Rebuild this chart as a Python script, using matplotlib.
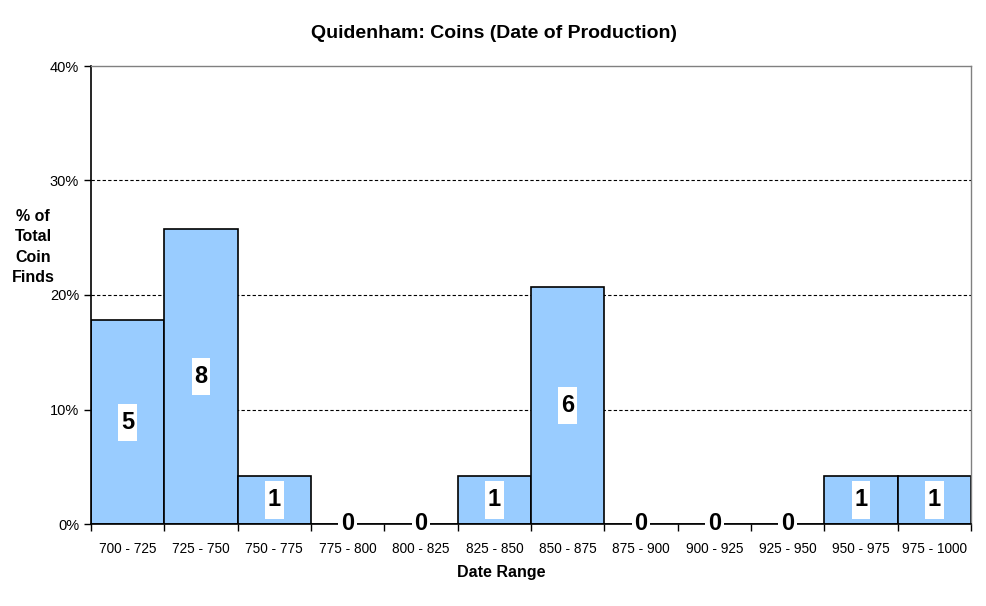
import matplotlib
matplotlib.use("Agg")
import matplotlib.pyplot as plt
import numpy as np
from matplotlib.path import Path
from matplotlib.ticker import FixedLocator, PercentFormatter

plt.rcParams['font.family'] = ['Liberation Sans', 'DejaVu Sans']

categories = ["700 - 725", "725 - 750", "750 - 775", "775 - 800", "800 - 825",
              "825 - 850", "850 - 875", "875 - 900", "900 - 925", "925 - 950",
              "950 - 975", "975 - 1000"]
percent = [17.8, 25.8, 4.2, 0, 0, 4.2, 20.7, 0, 0, 0, 4.2, 4.2]
counts = [5, 8, 1, 0, 0, 1, 6, 0, 0, 0, 1, 1]


def tall_box(x0, y0, width, height, mutation_size):
    padx = 0.12 * mutation_size
    pady = 0.30 * mutation_size
    x0, y0 = x0 - padx, y0 - pady
    x1, y1 = x0 + width + 2 * padx, y0 + height + 2 * pady
    return Path([(x0, y0), (x1, y0), (x1, y1), (x0, y1), (x0, y0)], closed=True)


fig = plt.figure(figsize=(9.87, 6.06), dpi=100)
ax = fig.add_axes([91/987, 1-524/606, (971-91)/987, (524-66)/606])

x = np.arange(len(categories))
ax.bar(x, percent, width=1.0, color="#99CCFF", edgecolor="black", linewidth=1.2, zorder=2)

for xi, p, c in zip(x, percent, counts):
    ax.text(xi, p/2, str(c), ha="center", va="center", fontsize=17, fontweight="bold",
            bbox=dict(boxstyle=tall_box, facecolor="white", edgecolor="none"), zorder=4)

ax.set_xlim(-0.5, len(categories)-0.5)
ax.set_ylim(0, 40)
ax.yaxis.set_major_locator(FixedLocator([0, 10, 20, 30, 40]))
ax.yaxis.set_major_formatter(PercentFormatter(decimals=0))
ax.set_xticks(x)
ax.set_xticklabels(categories, fontsize=9.8)
ax.xaxis.set_minor_locator(FixedLocator(np.arange(-0.5, len(categories), 1.0)))
ax.tick_params(axis="x", which="major", length=0, pad=13)
ax.tick_params(axis="x", which="minor", length=5, width=1, direction="out")
ax.tick_params(axis="y", length=5, width=1, direction="out", labelsize=10.5)

for yv in [10, 20, 30]:
    ax.axhline(yv, color="black", linestyle=(0, (3, 2)), linewidth=0.8, zorder=1)

for side in ["left", "bottom"]:
    ax.spines[side].set_color("black")
    ax.spines[side].set_linewidth(1.2)
for side in ["top", "right"]:
    ax.spines[side].set_color("#808080")
    ax.spines[side].set_linewidth(1.0)
ax.spines["bottom"].set_zorder(3)

fig.text(494/987, 1-33/606, "Quidenham: Coins (Date of Production)", ha="center", va="center",
         fontsize=14, fontweight="bold")
fig.text(501/987, 1-573/606, "Date Range", ha="center", va="center", fontsize=11.5, fontweight="bold")
fig.text(33/987, 1-247/606, "% of\nTotal\nCoin\nFinds", ha="center", va="center", fontsize=11.5,
         fontweight="bold", linespacing=1.45)

fig.savefig("out.png", dpi=100)
